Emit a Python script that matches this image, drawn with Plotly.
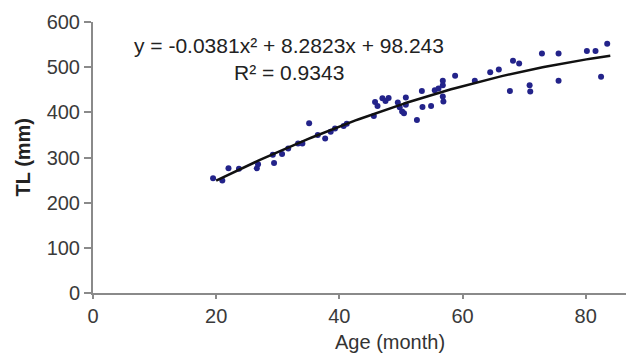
import plotly.graph_objects as go
import numpy as np

age = [19.5, 21.0, 22.0, 23.7, 26.6, 26.8, 29.2, 29.4, 30.7, 31.7, 33.3, 34.0, 35.1, 36.5,
       37.7, 38.6, 39.3, 40.7, 41.2, 45.6, 45.8, 46.2, 47.0, 47.5, 48.0, 49.5, 49.8, 50.2,
       50.5, 50.8, 50.8, 52.6, 53.4, 53.5, 54.9, 55.5, 56.1, 56.8, 56.8, 56.8, 56.9, 58.8,
       62.0, 64.5, 65.9, 67.7, 68.2, 69.2, 70.9, 71.0, 72.9, 75.6, 75.6, 80.2, 81.6, 82.5, 83.5]
tl = [254, 249, 276, 275, 276, 285, 306, 288, 308, 320, 331, 331, 376, 350,
      342, 357, 364, 370, 375, 392, 423, 414, 431, 425, 432, 422, 411, 402,
      398, 433, 417, 383, 447, 412, 414, 449, 453, 470, 460, 435, 424, 481,
      470, 489, 495, 447, 514, 508, 460, 446, 530, 530, 470, 536, 536, 479, 552]

coef = [-0.0381, 8.2823, 98.243]
fit_range = [20, 84]
x_ticks = [0, 20, 40, 60, 80]
y_ticks = [0, 100, 200, 300, 400, 500, 600]

xf = np.linspace(fit_range[0], fit_range[1], 100)
yf = np.polyval(coef, xf)

font = "Liberation Sans, Arial, sans-serif"
fig = go.Figure()
fig.add_trace(go.Scatter(x=age, y=tl, mode="markers",
                         marker=dict(color="#23238a", size=6), showlegend=False))
fig.add_trace(go.Scatter(x=xf, y=yf, mode="lines",
                         line=dict(color="#111111", width=2.5), showlegend=False))

axis_common = dict(showgrid=False, zeroline=False, showline=True, linecolor="#8a8a8a",
                   linewidth=2, ticks="outside", tickcolor="#8a8a8a", tickwidth=1.5,
                   automargin=False,
                   tickfont=dict(family=font, size=20, color="#3a3a3a"))
fig.update_xaxes(range=[0, 87.2], tickvals=x_ticks, ticklen=4, **axis_common)
fig.update_yaxes(range=[0, 600], tickvals=y_ticks, ticklen=7, **axis_common)

fig.add_annotation(x=0, xref="paper", xanchor="center", xshift=-71,
                   y=0.5, yref="paper", text="<b>TL (mm)</b>", textangle=-90, showarrow=False,
                   font=dict(family=font, size=20, color="#222222"))
fig.add_annotation(x=31.8, y=549, text="y = -0.0381x² + 8.2823x + 98.243", showarrow=False,
                   font=dict(family=font, size=21, color="#222222"))
fig.add_annotation(x=31.8, y=489, text="R² = 0.9343", showarrow=False,
                   font=dict(family=font, size=21, color="#222222"))
fig.add_annotation(x=48.2, xref="x", y=-0.181, yref="paper", yanchor="middle",
                   text="Age (month)", showarrow=False,
                   font=dict(family=font, size=20, color="#333333"))

# page body has an 8px margin, so the figure is sized to fit the 634x353 window
fig.update_layout(width=626, height=345, margin=dict(l=85, r=4, t=14, b=60),
                  plot_bgcolor="white", paper_bgcolor="white")
fig.write_html("out.html")
